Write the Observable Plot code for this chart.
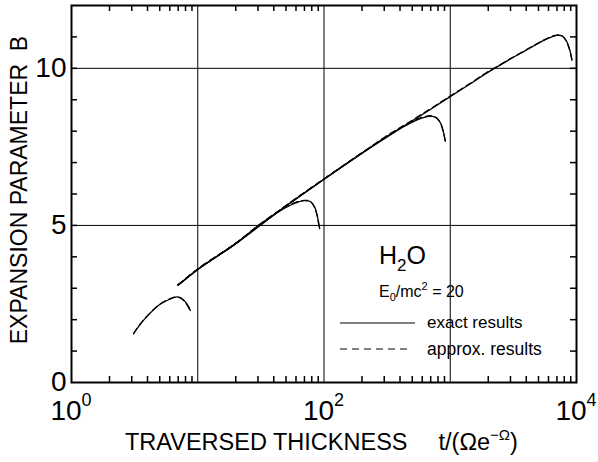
<!DOCTYPE html>
<html><head><meta charset="utf-8">
<script src="https://cdn.jsdelivr.net/npm/d3@7"></script>
<script src="https://cdn.jsdelivr.net/npm/@observablehq/plot@0.6"></script>
<style>
body{margin:0;background:#fff}
svg{font-family:"Liberation Sans",Arial,sans-serif}
</style>
</head><body><div id="chart"></div>
<script>
// ---- data ----
const c1T      = [3.1, 3.5, 4.0, 5.0, 6.0, 6.7, 7.2, 7.7, 8.2, 8.75];
const c1Exact  = [1.55, 1.85, 2.12, 2.48, 2.65, 2.72, 2.71, 2.63, 2.50, 2.29];
const c1Approx = [1.56, 1.86, 2.13, 2.49, 2.66, 2.72, 2.70, 2.62, 2.48, 2.27];

const c2T      = [7, 10, 20, 30, 40, 50, 60, 70, 78, 84, 88, 91, 92.5];
const c2Exact  = [3.10, 3.60, 4.42, 4.98, 5.33, 5.57, 5.72, 5.79, 5.76, 5.60, 5.35, 5.05, 4.90];
const c2Approx = [3.11, 3.61, 4.43, 4.99, 5.35, 5.60, 5.74, 5.80, 5.76, 5.58, 5.33, 5.02, 4.88];

const c3T      = [7, 10, 20, 50, 100, 200, 300, 400, 500, 600, 700, 780, 840, 880, 915];
const c3Exact  = [3.10, 3.60, 4.42, 5.62, 6.47, 7.30, 7.78, 8.08, 8.29, 8.42, 8.48, 8.42, 8.25, 8.00, 7.68];
const c3Approx = [3.11, 3.61, 4.43, 5.63, 6.48, 7.31, 7.80, 8.11, 8.31, 8.44, 8.49, 8.42, 8.23, 7.98, 7.66];

const mT      = [7, 10, 20, 30, 50, 100, 200, 400, 700, 1000, 1500, 2000, 2500, 3000, 4000, 5000, 6000, 7000, 7700, 8300, 8800, 9200];
const mExact  = [3.10, 3.60, 4.42, 4.98, 5.62, 6.47, 7.30, 8.08, 8.70, 9.10, 9.55, 9.88, 10.11, 10.30, 10.58, 10.80, 10.96, 11.05, 11.03, 10.88, 10.62, 10.28];
const mApprox = [3.11, 3.61, 4.43, 4.99, 5.63, 6.48, 7.31, 8.10, 8.72, 9.12, 9.57, 9.90, 10.12, 10.31, 10.59, 10.81, 10.97, 11.06, 11.03, 10.86, 10.60, 10.25];

const xGrid = [10, 100, 1000];
const yGrid = [5, 10];
const xMinor = [2,3,4,5,6,7,8,9,20,30,40,50,60,70,80,90,200,300,400,500,600,700,800,900,2000,3000,4000,5000,6000,7000,8000,9000];
const yMinor = [1,2,3,4,5,6,7,8,9,10,11];
const yLabels = [0, 5, 10];
const xLabelValues = [1, 100, 10000];
const xLabelExps = ["0", "2", "4"];

const xTitle = "TRAVERSED THICKNESS";
const yTitle = "EXPANSION PARAMETER  B";
const legendExact = "exact results";
const legendApprox = "approx. results";

function rows(curve, T, B) { return T.map((t, i) => ({curve, t, B: B[i]})); }
const exactRows = [].concat(rows("c1", c1T, c1Exact), rows("c2", c2T, c2Exact), rows("c3", c3T, c3Exact), rows("m", mT, mExact));
const approxRows = [].concat(rows("c1", c1T, c1Approx), rows("c2", c2T, c2Approx), rows("c3", c3T, c3Approx), rows("m", mT, mApprox));

const W = 598, H = 462, ML = 71, MR = 22, MT = 5, MB = 80;
const FW = W - ML - MR, FH = H - MT - MB, TL = 6;
const tickStyle = {stroke: "black", strokeOpacity: 1, strokeWidth: 1.5};

const chart = Plot.plot({
  width: W, height: H,
  marginLeft: ML, marginRight: MR, marginTop: MT, marginBottom: MB,
  style: {fontFamily: "Liberation Sans, Arial, sans-serif", background: "white", color: "black"},
  x: {type: "log", domain: [1, 10000], axis: null},
  y: {domain: [0, 12]},
  marks: [
    Plot.gridX(xGrid, {stroke: "black", strokeOpacity: 1, strokeWidth: 1}),
    Plot.gridY(yGrid, {stroke: "black", strokeOpacity: 1, strokeWidth: 1}),
    // inward minor ticks on all four sides
    Plot.tickX(xMinor, {x: d => d, ...tickStyle, insetTop: FH - TL}),
    Plot.tickX(xMinor, {x: d => d, ...tickStyle, insetBottom: FH - TL}),
    Plot.tickY(yMinor, {y: d => d, ...tickStyle, insetRight: FW - TL}),
    Plot.tickY(yMinor, {y: d => d, ...tickStyle, insetLeft: FW - TL}),
    Plot.axisY(yLabels, {anchor: "left", tickSize: 0, tickPadding: 5, fontSize: 28, label: null}),
    Plot.line(exactRows, {x: "t", y: "B", z: "curve", stroke: "black", strokeWidth: 1.3, curve: "catmull-rom"}),
    Plot.line(approxRows, {x: "t", y: "B", z: "curve", stroke: "black", strokeWidth: 1.3, strokeDasharray: "6,4", curve: "catmull-rom"}),
    Plot.frame({stroke: "black", strokeWidth: 2})
  ]
});

const svg = d3.select(chart);
const xs = chart.scale("x");

// x tick labels 10^n
xLabelValues.forEach((v, i) => {
  const t = svg.append("text")
    .attr("x", xs.apply(v)).attr("y", 420)
    .attr("text-anchor", "middle").attr("font-size", 28).attr("fill", "black");
  t.append("tspan").text("10");
  t.append("tspan").attr("font-size", 18).attr("dy", -14).text(xLabelExps[i]);
});

// x title
const xt = svg.append("text").attr("x", 125).attr("y", 450).attr("text-anchor", "start")
  .attr("font-size", 23.5).attr("fill", "black");
xt.append("tspan").text(xTitle);
xt.append("tspan").attr("dx", 31).text("t/(Ωe");
xt.append("tspan").attr("font-size", 15).attr("dy", -10).text("−Ω");
xt.append("tspan").attr("dy", 10).text(")");

// y title
svg.append("text")
  .attr("transform", "translate(27,190) rotate(-90)")
  .attr("text-anchor", "middle").attr("font-size", 23).attr("fill", "black")
  .text(yTitle);

// legend
const h = svg.append("text").attr("x", 379).attr("y", 264).attr("text-anchor", "start").attr("font-size", 25).attr("fill", "black");
h.append("tspan").text("H");
h.append("tspan").attr("font-size", 17).attr("dy", 7).text("2");
h.append("tspan").attr("dy", -7).text("O");

const e = svg.append("text").attr("x", 379).attr("y", 297).attr("text-anchor", "start").attr("font-size", 16).attr("fill", "black");
e.append("tspan").text("E");
e.append("tspan").attr("font-size", 11).attr("dy", 4).text("0");
e.append("tspan").attr("dy", -4).text("/mc");
e.append("tspan").attr("font-size", 11).attr("dy", -7).text("2");
e.append("tspan").attr("dy", 7).text(" = 20");

svg.append("line").attr("x1", 340).attr("x2", 415).attr("y1", 323).attr("y2", 323)
  .attr("stroke", "black").attr("stroke-width", 1);
svg.append("text").attr("x", 427).attr("y", 328).attr("text-anchor", "start").attr("font-size", 17).attr("fill", "black").text(legendExact);
svg.append("line").attr("x1", 340).attr("x2", 412).attr("y1", 349).attr("y2", 349)
  .attr("stroke", "black").attr("stroke-width", 1).attr("stroke-dasharray", "7,5");
svg.append("text").attr("x", 427).attr("y", 355).attr("text-anchor", "start").attr("font-size", 17.5).attr("fill", "black").text(legendApprox);

document.getElementById("chart").appendChild(chart);
</script>
</body></html>
